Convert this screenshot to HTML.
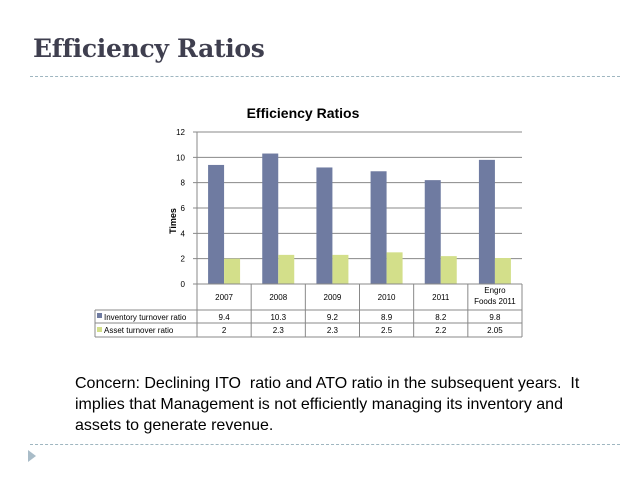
<!DOCTYPE html>
<html><head><meta charset="utf-8"><style>
body{margin:0;width:638px;height:479px;background:#fff;overflow:hidden;position:relative;font-family:"Liberation Sans",sans-serif}
#title{position:absolute;left:33px;top:34px;font:bold 25px "DejaVu Serif",serif;color:#3f3f4f;margin:0;letter-spacing:-0.3px}
.dash{position:absolute;left:30px;width:590px;border-top:1px dashed #9fb6c0}
#concern{position:absolute;left:75px;top:373px;font-size:16px;line-height:21px;color:#000;width:520px}
</style></head><body>
<h1 id="title">Efficiency Ratios</h1>
<div class="dash" style="top:76px"></div>
<div class="dash" style="top:444px"></div>
<svg style="position:absolute;left:26px;top:449px" width="12" height="14"><polygon points="2,1 10,7 2,13" fill="#a9bcc8"/></svg>
<div id="concern">Concern: Declining ITO&nbsp; ratio and ATO ratio in the subsequent years.&nbsp; It implies that Management is not efficiently managing its inventory and assets to generate revenue.</div>
<svg id="chart" width="638" height="479" style="position:absolute;left:0;top:0" font-family="Liberation Sans, sans-serif"></svg>
<script>
const categories=["2007","2008","2009","2010","2011","Engro|Foods 2011"];
const itoValues=[9.4,10.3,9.2,8.9,8.2,9.8];
const atoValues=[2,2.3,2.3,2.5,2.2,2.05];
const itoLabels=["9.4","10.3","9.2","8.9","8.2","9.8"];
const atoLabels=["2","2.3","2.3","2.5","2.2","2.05"];
const yTicks=[0,2,4,6,8,10,12];
const svg=document.getElementById('chart');
const NS='http://www.w3.org/2000/svg';
const X0=197,X1=522,Y0=284,Y1=132,YMAX=12;
const cw=(X1-X0)/categories.length;
const y=v=>Y0-(v/YMAX)*(Y0-Y1);
function mk(t,a,txt){const e=document.createElementNS(NS,t);for(const k in a)e.setAttribute(k,a[k]);if(txt!==undefined)e.textContent=txt;svg.appendChild(e);return e;}
let e=mk('text',{x:303,y:118,'font-size':14,'font-weight':'bold','text-anchor':'middle'},'Efficiency Ratios');


e=mk('text',{x:0,y:0,'font-size':9,'font-weight':'bold','text-anchor':'middle',transform:'translate(176,221) rotate(-90)'},'Times');


yTicks.forEach(t=>{
 const l=mk('line',{x1:X0-4,x2:X1,y1:y(t),y2:y(t),stroke:'#888','stroke-width':1});
 
 
 const tx=mk('text',{x:X0-12,y:y(t)+3,'font-size':8,'text-anchor':'end'},String(t));
 
 
});
mk('line',{x1:X0,x2:X0,y1:Y1,y2:Y0,stroke:'#888'});
const bw=16;
categories.forEach((c,i)=>{
 const cx=X0+cw*i+cw/2;
 const b1=mk('rect',{x:cx-bw,y:y(itoValues[i]),width:bw,height:Y0-y(itoValues[i]),fill:'#6f7ba1'});
 
 
 const b2=mk('rect',{x:cx,y:y(atoValues[i]),width:bw,height:Y0-y(atoValues[i]),fill:'#d3df8a'});
 
 
});
const R=[284,310,323,337],LX=95;
mk('line',{x1:X0,x2:X1,y1:R[0],y2:R[0],stroke:'#888'});
[1,2,3].forEach(k=>mk('line',{x1:LX,x2:X1,y1:R[k],y2:R[k],stroke:'#888'}));
mk('line',{x1:LX,x2:LX,y1:R[1],y2:R[3],stroke:'#888'});
for(let i=0;i<=categories.length;i++){const xx=X0+cw*i;mk('line',{x1:xx,x2:xx,y1:R[0],y2:R[3],stroke:'#888'});}
categories.forEach((c,i)=>{
 const cx=X0+cw*i+cw/2;const parts=c.split('|');
 parts.forEach((p,j)=>{const t=mk('text',{x:cx,y:parts.length>1?293+j*11:300,'font-size':8,'text-anchor':'middle'},p);
 
 });
 const a=mk('text',{x:cx,y:320,'font-size':8,'text-anchor':'middle'},itoLabels[i]);
 
 
 const b=mk('text',{x:cx,y:333,'font-size':8,'text-anchor':'middle'},atoLabels[i]);
 
 
});
e=mk('rect',{x:97,y:313,width:5,height:5,fill:'#6f7ba1'});


e=mk('text',{x:104,y:320,'font-size':8},'Inventory turnover ratio');


e=mk('rect',{x:97,y:327,width:5,height:5,fill:'#d3df8a'});


e=mk('text',{x:104,y:333,'font-size':8},'Asset turnover ratio');


</script>
</body></html>
